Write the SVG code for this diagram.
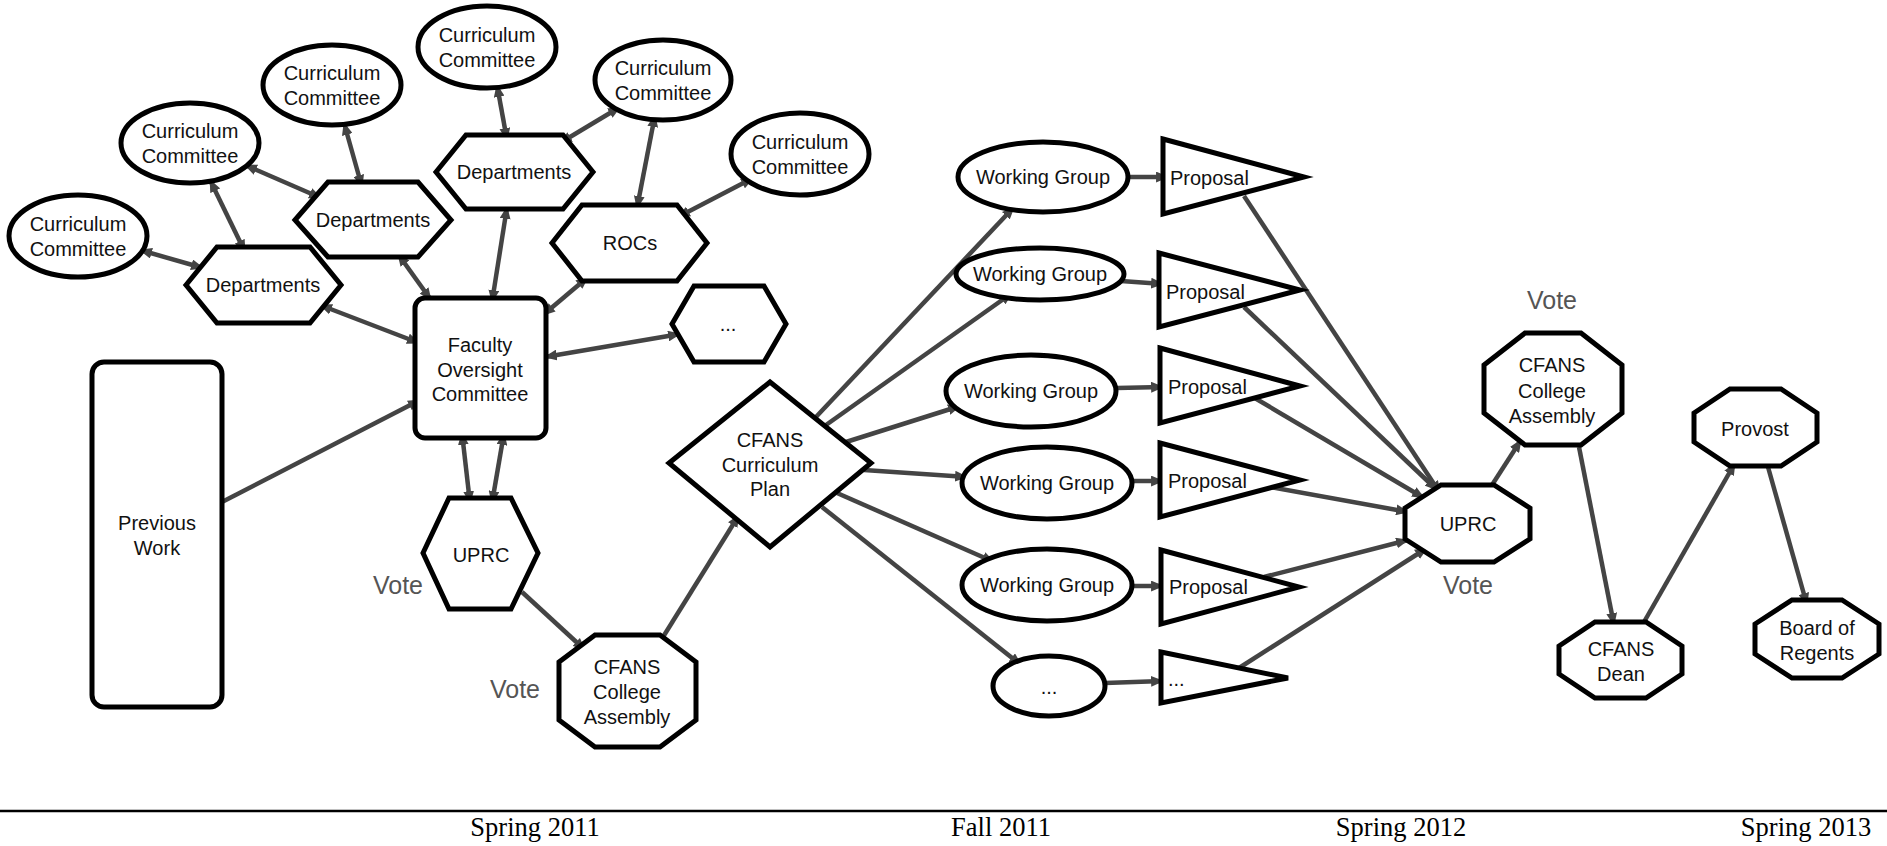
<svg xmlns="http://www.w3.org/2000/svg" width="1887" height="846" viewBox="0 0 1887 846">
<defs>
<marker id="ah" viewBox="0 0 12 10" refX="11" refY="5" markerWidth="13" markerHeight="11" markerUnits="userSpaceOnUse" orient="auto-start-reverse"><path d="M0,0 L12,5 L0,10 z" fill="#444"/></marker>
<style>
.n{fill:#fff;stroke:#000;stroke-width:5;stroke-linejoin:miter}
.t{font-family:"Liberation Sans",Arial,sans-serif;font-size:20px;fill:#111;text-anchor:middle}
.tl{font-family:"Liberation Sans",Arial,sans-serif;font-size:20px;fill:#111}
.v{font-family:"Liberation Sans",Arial,sans-serif;font-size:25px;fill:#555;text-anchor:middle}
.d{font-family:"Liberation Serif","Times New Roman",serif;font-size:26.5px;fill:#000;text-anchor:middle}
.c line{stroke:#444;stroke-width:4.5;marker-end:url(#ah)}
.c line.b{marker-start:url(#ah)}
</style>
</defs>
<rect width="1887" height="846" fill="#fff"/>

<g class="c" id="connectors">
<line class="b" x1="140" y1="250" x2="203" y2="268"/>
<line class="b" x1="210" y1="180" x2="245" y2="252"/>
<line class="b" x1="245" y1="165" x2="321" y2="198"/>
<line class="b" x1="344" y1="123" x2="362" y2="187"/>
<line class="b" x1="497" y1="85" x2="507" y2="140"/>
<line class="b" x1="320" y1="305" x2="419" y2="343"/>
<line class="b" x1="398" y1="254" x2="431" y2="300"/>
<line class="b" x1="507" y1="207" x2="492" y2="302"/>
<line class="b" x1="620" y1="107" x2="560" y2="143"/>
<line class="b" x1="655" y1="115" x2="637" y2="208"/>
<line class="b" x1="753" y1="178" x2="678" y2="217"/>
<line class="b" x1="588" y1="277" x2="543" y2="315"/>
<line class="b" x1="680" y1="334" x2="545" y2="357"/>
<line class="b" x1="462" y1="433" x2="470" y2="503"/>
<line class="b" x1="504" y1="433" x2="492" y2="503"/>
<line x1="222" y1="502" x2="420" y2="400"/>
<line x1="522" y1="592" x2="585" y2="650"/>
<line x1="663" y1="637" x2="739" y2="515"/>
<line x1="815" y1="418" x2="1014" y2="207"/>
<line x1="826" y1="425" x2="1012" y2="293"/>
<line x1="846" y1="442" x2="960" y2="406"/>
<line x1="864" y1="470" x2="967" y2="477"/>
<line x1="837" y1="493" x2="994" y2="562"/>
<line x1="822" y1="507" x2="1021" y2="665"/>
<line x1="1130" y1="177" x2="1168" y2="177"/>
<line x1="1121" y1="281" x2="1163" y2="284"/>
<line x1="1117" y1="388" x2="1163" y2="387"/>
<line x1="1132" y1="481" x2="1163" y2="481"/>
<line x1="1132" y1="586" x2="1163" y2="586"/>
<line x1="1105" y1="683" x2="1163" y2="681"/>
<line x1="1244" y1="196" x2="1440" y2="493"/>
<line x1="1244" y1="307" x2="1437" y2="490"/>
<line x1="1253" y1="397" x2="1424" y2="498"/>
<line x1="1270" y1="487" x2="1408" y2="512"/>
<line x1="1264" y1="577" x2="1408" y2="540"/>
<line x1="1239" y1="668" x2="1427" y2="548"/>
<line x1="1492" y1="485" x2="1521" y2="440"/>
<line x1="1579" y1="447" x2="1614" y2="625"/>
<line x1="1644" y1="622" x2="1735" y2="463"/>
<line x1="1768" y1="467" x2="1807" y2="605"/>
</g>

<g id="cc1"><ellipse class="n" cx="78" cy="236" rx="69" ry="41"/><text class="t" x="78" y="231">Curriculum</text><text class="t" x="78" y="256">Committee</text></g>
<g id="cc2"><ellipse class="n" cx="190" cy="143" rx="69" ry="40"/><text class="t" x="190" y="138">Curriculum</text><text class="t" x="190" y="163">Committee</text></g>
<g id="cc3"><ellipse class="n" cx="332" cy="85" rx="69" ry="40"/><text class="t" x="332" y="80">Curriculum</text><text class="t" x="332" y="105">Committee</text></g>
<g id="cc4"><ellipse class="n" cx="487" cy="47" rx="69" ry="41"/><text class="t" x="487" y="42">Curriculum</text><text class="t" x="487" y="67">Committee</text></g>
<g id="cc5"><ellipse class="n" cx="663" cy="80" rx="68" ry="40"/><text class="t" x="663" y="75">Curriculum</text><text class="t" x="663" y="100">Committee</text></g>
<g id="cc6"><ellipse class="n" cx="800" cy="154" rx="69" ry="41"/><text class="t" x="800" y="149">Curriculum</text><text class="t" x="800" y="174">Committee</text></g>

<g id="dept1"><polygon class="n" points="186,285 217,247 310,247 341,285 310,323 217,323"/><text class="t" x="263" y="292">Departments</text></g>
<g id="dept2"><polygon class="n" points="295,220 328,182 418,182 451,220 418,257 328,257"/><text class="t" x="373" y="227">Departments</text></g>
<g id="dept3"><polygon class="n" points="436,172 466,135 563,135 593,172 563,209 466,209"/><text class="t" x="514" y="179">Departments</text></g>
<g id="rocs"><polygon class="n" points="552,243 582,205 677,205 707,243 677,281 582,281"/><text class="t" x="630" y="250">ROCs</text></g>
<g id="etc1"><polygon class="n" points="672,324 694,286 764,286 786,324 764,362 694,362"/><text class="t" x="728" y="331">...</text></g>

<g id="faculty"><rect class="n" x="415" y="298" width="131" height="140" rx="10"/><text class="t" x="480" y="352">Faculty</text><text class="t" x="480" y="377">Oversight</text><text class="t" x="480" y="401">Committee</text></g>
<g id="previous"><rect class="n" x="92" y="362" width="130" height="345" rx="12"/><text class="t" x="157" y="530">Previous</text><text class="t" x="157" y="555">Work</text></g>

<g id="uprc1"><polygon class="n" points="423,553 449,498 511,498 538,553 511,609 449,609"/><text class="t" x="481" y="562">UPRC</text></g>
<text class="v" x="398" y="594">Vote</text>
<g id="ca1"><polygon class="n" points="595,635 660,635 696,662 696,720 660,747 595,747 559,720 559,662"/><text class="t" x="627" y="674">CFANS</text><text class="t" x="627" y="699">College</text><text class="t" x="627" y="724">Assembly</text></g>
<text class="v" x="515" y="698">Vote</text>

<g id="plan"><polygon class="n" points="770,382 871,463 770,547 669,463"/><text class="t" x="770" y="447">CFANS</text><text class="t" x="770" y="472">Curriculum</text><text class="t" x="770" y="496">Plan</text></g>

<g id="wg1"><ellipse class="n" cx="1043" cy="177" rx="85" ry="35"/><text class="t" x="1043" y="184">Working Group</text></g>
<g id="wg2"><ellipse class="n" cx="1040" cy="274" rx="84" ry="26"/><text class="t" x="1040" y="281">Working Group</text></g>
<g id="wg3"><ellipse class="n" cx="1031" cy="391" rx="85" ry="36"/><text class="t" x="1031" y="398">Working Group</text></g>
<g id="wg4"><ellipse class="n" cx="1047" cy="483" rx="85" ry="36"/><text class="t" x="1047" y="490">Working Group</text></g>
<g id="wg5"><ellipse class="n" cx="1047" cy="585" rx="85" ry="36"/><text class="t" x="1047" y="592">Working Group</text></g>
<g id="wg6"><ellipse class="n" cx="1049" cy="686" rx="56" ry="30"/><text class="t" x="1049" y="694">...</text></g>

<g id="p1"><polygon class="n" points="1163,139 1304,177 1163,214"/><text class="tl" x="1170" y="185">Proposal</text></g>
<g id="p2"><polygon class="n" points="1159,253 1300,290 1159,327"/><text class="tl" x="1166" y="299">Proposal</text></g>
<g id="p3"><polygon class="n" points="1160,348 1300,386 1160,423"/><text class="tl" x="1168" y="394">Proposal</text></g>
<g id="p4"><polygon class="n" points="1160,443 1300,480 1160,517"/><text class="tl" x="1168" y="488">Proposal</text></g>
<g id="p5"><polygon class="n" points="1161,550 1299,587 1161,624"/><text class="tl" x="1169" y="594">Proposal</text></g>
<g id="p6"><polygon class="n" points="1161,652 1288,678 1161,703"/><text class="tl" x="1168" y="686">...</text></g>

<g id="uprc2"><polygon class="n" points="1441,485 1494,485 1530,508 1530,539 1494,562 1441,562 1405,539 1405,508"/><text class="t" x="1468" y="531">UPRC</text></g>
<text class="v" x="1468" y="594">Vote</text>
<g id="ca2"><polygon class="n" points="1525,333 1581,333 1622,365 1622,413 1581,445 1525,445 1484,413 1484,365"/><text class="t" x="1552" y="372">CFANS</text><text class="t" x="1552" y="398">College</text><text class="t" x="1552" y="423">Assembly</text></g>
<text class="v" x="1552" y="309">Vote</text>
<g id="dean"><polygon class="n" points="1595,622 1646,622 1682,646 1682,674 1646,698 1595,698 1559,674 1559,646"/><text class="t" x="1621" y="656">CFANS</text><text class="t" x="1621" y="681">Dean</text></g>
<g id="provost"><polygon class="n" points="1730,389 1781,389 1817,413 1817,442 1781,466 1730,466 1694,442 1694,413"/><text class="t" x="1755" y="436">Provost</text></g>
<g id="regents"><polygon class="n" points="1792,600 1842,600 1879,624 1879,654 1842,678 1792,678 1755,654 1755,624"/><text class="t" x="1817" y="635">Board of</text><text class="t" x="1817" y="660">Regents</text></g>

<g id="timeline">
<line x1="0" y1="811" x2="1887" y2="811" stroke="#000" stroke-width="2.5"/>
<text class="d" x="535" y="836">Spring 2011</text>
<text class="d" x="1001" y="836">Fall 2011</text>
<text class="d" x="1401" y="836">Spring 2012</text>
<text class="d" x="1806" y="836">Spring 2013</text>
</g>
</svg>
